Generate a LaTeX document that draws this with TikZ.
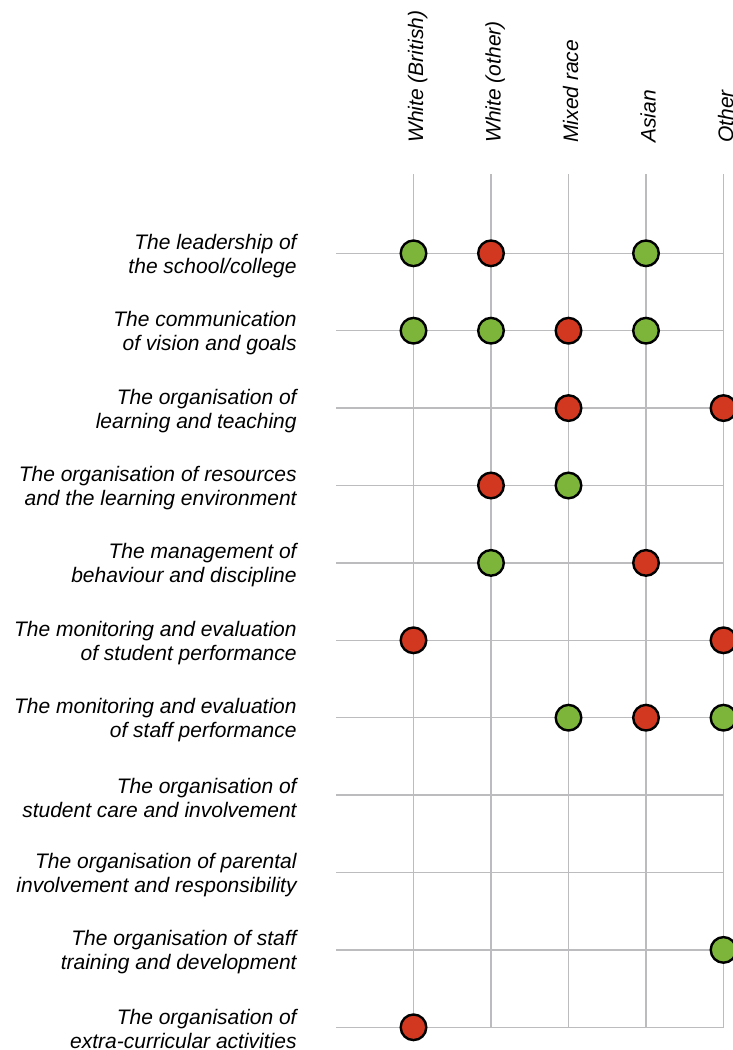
\documentclass[tikz,border=0pt]{standalone}
\usepackage{fontspec}
\setmainfont{Liberation Sans}
\definecolor{dotgreen}{RGB}{124,181,58}
\definecolor{dotred}{RGB}{210,56,32}
\definecolor{gridgray}{RGB}{188,188,190}

\begin{document}
\begin{tikzpicture}[x=0.5pt, y=-0.5pt,
    gridline/.style={draw=gridgray, line width=0.75pt},
    dot/.style={circle, draw=black, line width=1.2pt, minimum size=12.8pt, inner sep=0pt},
    good/.style={dot, fill=dotgreen},
    bad/.style={dot, fill=dotred},
    rowlabel/.style={anchor=east, align=right, inner sep=0pt, font=\fontsize{10.5}{12}\selectfont\itshape},
    collabel/.style={anchor=base west, rotate=90, inner sep=0pt, font=\fontsize{10.5}{12}\selectfont\itshape}]
    \useasboundingbox (0,0) rectangle (733,1050);
    % grid
    \foreach \r in {0,...,10}
        \draw[gridline] (336,{253.3+77.4*\r}) -- (723.5,{253.3+77.4*\r});
    \foreach \c in {0,...,4}
        \draw[gridline] ({413.5+77.5*\c},174) -- ({413.5+77.5*\c},1027.3);
    % column headings
    \node[collabel] (wb) at (423,143) {White (British)};
    \node[collabel] (wo) at (500.5,143) {White (other)};
    \node[collabel] (mr) at (578,143) {Mixed race};
    \node[collabel] (as) at (655.5,143) {Asian};
    \node[collabel] (ot) at (733,143) {Other};
    % row headings
    \node[rowlabel] (lead) at (297,255.8) {The leadership of\\the school/college};
    \node[rowlabel] (comm) at (297,333.2) {The communication\\of vision and goals};
    \node[rowlabel] (teach) at (297,410.6) {The organisation of\\learning and teaching};
    \node[rowlabel] (res) at (297,488) {The organisation of resources\\and the learning environment};
    \node[rowlabel] (behav) at (297,565.4) {The management of\\behaviour and discipline};
    \node[rowlabel] (stud) at (297,642.8) {The monitoring and evaluation\\of student performance};
    \node[rowlabel] (staff) at (297,720.2) {The monitoring and evaluation\\of staff performance};
    \node[rowlabel] (care) at (297,797.6) {The organisation of\\student care and involvement};
    \node[rowlabel] (par) at (297,875) {The organisation of parental\\involvement and responsibility};
    \node[rowlabel] (train) at (297,952.4) {The organisation of staff\\training and development};
    \node[rowlabel] (extra) at (297,1028.6) {The organisation of\\extra-curricular activities};
    % dots
    \node[good] (lead-wb) at (413.5,253.3) {};
    \node[bad] (lead-wo) at (491,253.3) {};
    \node[good] (lead-as) at (646,253.3) {};
    \node[good] (comm-wb) at (413.5,330.7) {};
    \node[good] (comm-wo) at (491,330.7) {};
    \node[bad] (comm-mr) at (568.5,330.7) {};
    \node[good] (comm-as) at (646,330.7) {};
    \node[bad] (teach-mr) at (568.5,408.1) {};
    \node[bad] (teach-ot) at (723.5,408.1) {};
    \node[bad] (res-wo) at (491,485.5) {};
    \node[good] (res-mr) at (568.5,485.5) {};
    \node[good] (behav-wo) at (491,562.9) {};
    \node[bad] (behav-as) at (646,562.9) {};
    \node[bad] (stud-wb) at (413.5,640.3) {};
    \node[bad] (stud-ot) at (723.5,640.3) {};
    \node[good] (staff-mr) at (568.5,717.7) {};
    \node[bad] (staff-as) at (646,717.7) {};
    \node[good] (staff-ot) at (723.5,717.7) {};
    \node[good] (train-ot) at (723.5,949.9) {};
    \node[bad] (extra-wb) at (413.5,1027.3) {};
\end{tikzpicture}
\end{document}
